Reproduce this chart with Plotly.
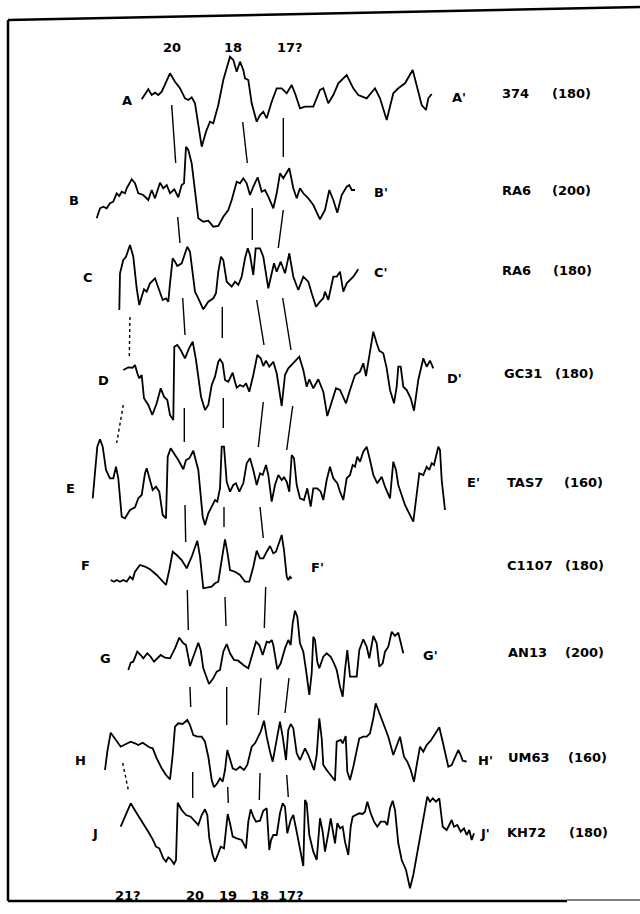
import plotly.graph_objects as go

# ---- profile readings: (distance, value) ; value axis increases downward on the page
A_pts = [(141.7,99.3),(148.3,89.3),(151.7,95),(155,92.7),(158.3,95),(161.7,91.7),(170,73.3),(175,81.7),(180,88.3),(185,98.3),(188.3,100),(191.7,97.3),(195,103.3),(198.3,126.7),(201.7,146.7),(206,131.7),(210,121.7),(213.3,123.3),(218.3,105),(223.3,80),(230,56.7),(233.3,60),(236.7,71.7),(240,61.7),(243.3,70),(245,78.3),(248.3,80),(251.7,103.3),(256.7,121.7),(260,115),(263.3,111.7),(266.7,118.3),(271.7,101.7),(276.7,88.3),(281.7,88.3),(286.7,93.3),(291.7,85),(295,93.3),(300,108.3),(305,106.7),(313.3,106.7),(320,90),(323.3,88.3),(328.3,103.3),(333.3,95),(338.3,83.3),(346.7,75),(353.3,88.3),(358.3,95),(366.7,98.3),(375,88.3),(380,98.3),(386.7,120),(393.3,93.3),(398.3,88.3),(405,83.3),(412.7,70),(418.3,91.7),(421.7,105),(426,110),(428.3,98.3),(431.7,94)]

B_pts = [(96.7,218.3),(100,208.3),(103.3,206.7),(106.7,208.3),(110,203.3),(113.3,201.7),(116.7,193.3),(119.3,196),(121.7,191.7),(125,193.3),(126.7,188.3),(131.7,179.3),(135,183.3),(138.3,193.3),(143.3,195),(148.3,200),(151.7,190),(155,198.3),(160,182.7),(163.3,188.3),(166.7,185),(170,193.3),(174.3,189.3),(178.3,197.3),(181.7,185),(184,183.3),(186,146.7),(188.3,150),(191.7,163.3),(195,193.3),(198.3,218.3),(203.3,221.7),(208.3,220.7),(213.3,226.7),(218.3,226),(223.3,216.7),(228.3,210),(231.7,200),(236.7,181.7),(240,183.3),(243.3,178.3),(246.7,183.3),(250,195),(253.3,186.7),(257.7,177.3),(261.7,191.7),(265,190),(268.3,196.7),(273.3,208.3),(276.7,193.3),(280,173.3),(283.3,178.3),(289.3,168.3),(293.3,188.3),(296.7,198.3),(300,188.3),(303.3,193.3),(308.3,198.3),(313.3,205),(320,219.3),(325,210),(329.3,190),(333.3,200),(337.3,212.7),(341.7,195),(346.7,186.7),(349.3,185),(351.7,190),(355,190)]

C_pts = [(119.3,310),(120,273.3),(123.3,260),(126,256.7),(130,245),(133.3,256.7),(136.7,288.3),(139.3,305),(141.7,296.7),(144,289.3),(146.7,291.7),(150,283.3),(155,278.3),(158.3,288.3),(162.7,300),(166,298.3),(168.3,301.7),(170,283.3),(172.7,258.3),(175,261.7),(177.3,266),(181.7,263.3),(187.3,246.7),(190,251.7),(195,291.7),(198.3,298.3),(203.3,309.3),(208.3,301.7),(213.3,298.3),(216,293.3),(218.3,271.7),(221,256.7),(223.3,260),(226.7,281.7),(231.7,286.7),(235,281.7),(238.3,285),(241.7,276.7),(245,258.3),(247.7,248.3),(250,255),(253.3,275),(255.7,248.3),(260,248.3),(263.3,256.7),(268.3,288.3),(271.7,273.3),(274,263.3),(276.7,271.7),(280.7,261.7),(285,273.3),(289.3,253.3),(293.3,276.7),(298.3,290),(303.3,276.7),(308.3,281.7),(311.7,293.3),(316,306.7),(320,301.7),(323.3,298.3),(325,291.7),(328.3,300),(333.3,276.7),(336.7,276.7),(340,271.7),(343.3,291.7),(346.7,283.3),(353.3,276.7),(358.3,269.3)]

D_pts = [(123.3,370),(128.3,367.3),(132.7,367.7),(135,365),(137.3,373.3),(139.3,378.3),(141.7,375),(144,398.3),(148.3,405),(152.3,415),(156.7,403.3),(160.7,388.3),(164,396.7),(167.3,400),(170,415),(173.3,420),(174.3,346.7),(177.3,345),(180.7,350),(185,358.3),(189,348.3),(192.7,341.7),(196,360),(201,396.7),(205,410),(208.3,405),(211.7,385),(215,376.7),(218.3,361.7),(220,359.3),(222.7,363.3),(225,380),(228.3,381.7),(232.7,372.7),(235,381.7),(236.7,387.7),(240,385),(243.3,386.7),(246,383.3),(249.3,391.7),(253.3,375),(257.3,355),(260.7,358.3),(263.3,366),(266,360.7),(269.3,366.7),(273.3,361.7),(276.7,373.3),(281.7,406),(285,375),(288.3,368.3),(291.7,365),(295,361.7),(299.3,356.7),(303.3,370),(306.7,386.7),(309.3,379.3),(313.3,388.3),(318.3,379.3),(323.3,391.7),(327.3,416),(331.7,401.7),(336,388.3),(340,390),(346,403.3),(350,390),(355,375),(360,371.7),(363.3,363.3),(366,376),(370,353.3),(373.3,331.7),(376.7,343.3),(379.3,350.7),(383.3,353.3),(386.7,368.3),(390,390),(394,403.3),(396.7,386.7),(398.3,366.7),(400.7,366.7),(403.3,386.7),(406.7,390),(410.7,398.3),(414,410.7),(418.3,380),(423.3,358.3),(426.7,366.7),(430,360.7),(433.3,368.3)]

E_pts = [(92.7,498.3),(95,470),(97.3,446.7),(100,439.3),(102.7,446.7),(106,470),(110,478.3),(113.3,478.3),(116,466.7),(118.3,478.3),(121.7,516.7),(125,518.3),(130,510),(135,507.3),(138.3,498.3),(141.7,495),(145,473.3),(146.7,468.3),(150,480),(152.7,490),(156,486.7),(159.3,491.7),(162.7,515),(166,518.3),(167.7,456.7),(170.7,448.3),(175,455),(178.3,460),(183.3,469.3),(186,460),(189.3,458.3),(193.3,450.7),(198.3,470),(202.7,516.7),(205,525),(208.3,513.3),(211.7,506.7),(215,500),(217.3,501.7),(220,488.3),(221.7,446.7),(224,446.7),(226.7,481.7),(230,491.7),(233.3,485),(236,483.3),(239.3,491.7),(243.3,483.3),(246.7,463.3),(250,458.3),(253.3,470),(256.7,485),(260,473.3),(262.7,475),(266,465),(268.3,475),(271.7,501.7),(275,485),(278.3,475),(281.7,480),(284,477.3),(286.7,481.7),(289.3,491.7),(291.7,455),(294,458.3),(296.7,485),(300,498.3),(304,500),(307.3,488.3),(310.7,506.7),(313.3,488.3),(317.3,488.3),(320.7,491.7),(323.3,500),(326.7,480),(330,466.7),(333.3,478.3),(337.3,483.3),(340,491.7),(343.3,500),(346.7,478.3),(350,475),(352.7,465),(355,466.7),(357.3,456.7),(360,461.7),(363.3,451.7),(366.7,446.7),(370,460),(373.3,475),(377.3,483.3),(381.7,476.7),(385,486.7),(390,498.3),(393.3,461.7),(396,470),(398.3,485),(405,505),(413.3,521.7),(419.3,473.3),(423.3,475),(426.7,466.7),(429.3,470),(431.7,463.3),(434,465),(438.3,446.7),(440,450),(441.7,480),(445,510)]

F_pts = [(110.7,580),(114,581.7),(116.7,580),(120,581.7),(123.3,580),(126.7,581.7),(130,576.7),(132.7,579.3),(135,571.7),(140,565),(145,566.7),(150,569.3),(156.7,575),(161.7,580),(166,585),(169.3,570),(172.7,551.7),(176.7,555),(181.7,560),(186.7,568.3),(191.7,556.7),(197.3,540.7),(200,556.7),(203.3,588.3),(207.3,587.3),(211.7,586.7),(215,583.3),(218.3,581.7),(221.7,560),(225,539.3),(227.3,551.7),(230,570),(235,571.7),(240,575),(245,581.7),(249.3,581.7),(253.3,566.7),(256.7,550.7),(260,558.3),(263.3,558.3),(266.7,551.7),(270,546),(273.3,553.3),(276,551.7),(281.7,535),(284,550),(286.7,576.7),(288.3,580),(290,576.7),(291.7,578.3)]

G_pts = [(128.3,670),(130.7,662.7),(133.3,661.7),(137.3,651.7),(140.7,655),(143.3,658.3),(147.3,653.3),(150.7,656.7),(154,661.7),(157.3,658.3),(160.7,655),(165,657.7),(170,658.3),(175,648.3),(179.3,637.7),(183.3,643.3),(186,645),(190,666),(193.3,656.7),(198.3,642.7),(200.7,650),(203.3,668.3),(209,684),(213.3,678.3),(216.7,671.7),(220,670),(223.3,651.7),(226.7,644),(230,653.3),(234,660),(238.3,660.7),(243.3,665),(248.3,668.3),(251.7,656.7),(256,641.7),(259.3,645),(262.7,655),(266.7,641.7),(269.3,642.7),(271.7,640),(273.3,645),(277.3,669.3),(280.7,663.3),(285,648.3),(288.3,640),(290.7,645),(292.7,623.3),(295,610.7),(297.3,616.7),(300,643.3),(303.3,651.7),(306,670),(309.3,695),(311.7,673.3),(313.3,636.7),(315,640),(317.3,661.7),(319.3,668.3),(323.3,656.7),(326.7,653.3),(330.7,656.7),(334,663.3),(336.7,670),(340,686.7),(342.7,696.7),(345,670),(347.3,650),(350,676.7),(356.7,676.7),(359.3,650),(363.3,639.3),(366.7,646.7),(369.3,658.3),(373.3,636),(376.7,643.3),(379.3,666.7),(382.7,663.3),(385,651.7),(388.3,646.7),(391.7,631.7),(395,636),(398.3,632.7),(403.3,653.3)]

H_pts = [(105,770),(107.3,751.7),(110.7,732.7),(115,738.3),(120.7,746.7),(126,744),(130.7,741.7),(135,743.3),(138.3,745),(142.7,742.7),(146,745),(149.3,747.3),(152.7,748.3),(156.7,758.3),(161.7,768.3),(166,775),(170,779.3),(172.7,755),(175,726.7),(178.3,723.3),(182.7,724),(187.3,720),(190,725),(193.3,735),(197.3,736.7),(201.7,736.7),(205,741.7),(208.3,756.7),(211.7,780),(214,787.3),(217.3,783.3),(220,778.3),(222.7,781.7),(225,770),(227.3,750),(230,758.3),(232.7,768.3),(236,770),(240,766.7),(244,770),(247.3,765),(251.7,746.7),(255,743.3),(258.3,736.7),(260.7,731.7),(264,720.7),(266.7,736.7),(270,751.7),(272.7,761.7),(276,743.3),(280,721.7),(282.7,736.7),(286,760),(288.3,730),(290.7,724),(293.3,728.3),(296.7,753.3),(300,760),(305,748.3),(308.3,755),(311.7,763.3),(314,770),(316.7,755),(319.3,718.3),(321.7,738.3),(323.3,765),(326.7,770),(331.7,776.7),(335,780.7),(336.7,741.7),(340.7,740),(342.7,743.3),(345.7,736),(347.3,771.7),(350,780),(353.3,766.7),(356.7,750),(359.3,738.3),(363.3,736.7),(366.7,736.7),(370,733.3),(373.3,718.3),(375.7,703.3),(380,715),(384,726.7),(388.3,736.7),(393.3,755),(396.7,746.7),(400,736.7),(404,756.7),(407.3,761.7),(410.7,770),(414,781.7),(416.7,765),(420,746.7),(423.3,751.7),(426.7,745),(430.7,740.7),(435,733.3),(439.3,727.3),(442.7,741.7),(445,751.7),(448.3,766.7),(451.7,765),(455,756.7),(458.3,750),(460.7,755),(462.7,760.7),(466.7,761.7)]

J_pts = [(120.7,826.7),(125,816.7),(130.7,803.3),(136.7,813.3),(143.3,823.3),(148.3,831.7),(152.7,839.3),(156,846.7),(159.3,848.3),(160.7,851.7),(163.3,858.3),(166,861.7),(168.3,857.3),(170.7,859.3),(174,864),(176,860),(177.7,802.7),(181.7,810),(186,815),(190.7,816.7),(195,821.7),(198.3,825),(201.7,815),(205,809.3),(207.3,815),(209.3,838.3),(212.7,855),(215,861.7),(218.3,853.3),(220.7,846.7),(224,848.3),(226,826.7),(227.7,814),(230,823.3),(232.7,836.7),(236.7,838.3),(241.7,840),(246,848.3),(248.3,821.7),(250.7,809.3),(253.3,816.7),(256,821.7),(260,820.7),(263.3,810.7),(266.7,808.3),(269.3,850),(271,840),(273.3,835),(276.7,835),(280,813.3),(282.7,803.3),(285,806.7),(287.3,833.3),(290.7,820),(293.3,815),(296.7,831.7),(300,848.3),(303.3,866),(305,800),(306.7,803.3),(309.3,835),(313.3,851.7),(316.7,860),(320,818.3),(322.7,831.7),(325,851.7),(328.3,833.3),(330.7,818.3),(332.7,830),(335,843.3),(337.3,823.3),(340,828.3),(342.7,826.7),(345,841.7),(348.3,855),(350.7,826.7),(352.7,816.7),(356,815),(359.3,813.3),(362.7,814),(365,811.7),(367.3,801.7),(370.7,813.3),(374,821.7),(377.3,826.7),(380.7,821.7),(385,821.7),(387.3,825),(390,808.3),(392.7,800.7),(395,810),(398.3,843.3),(401.7,860),(406,870),(410,888.3),(413.3,875),(418.3,846.7),(423.3,820),(427.3,796.7),(430,801.7),(432.7,798.3),(436,801.7),(439.3,798.3),(442.7,826.7),(446.7,830),(451.7,820),(454,826.7),(457.3,825),(460.7,831.7),(464,828.3),(466.7,835),(469.3,830),(471.7,840),(474,833.3)]

# correlation segments between adjacent profiles (x0, y0, x1, y1)
corr_solid = [
    (171.7,105,175.7,163),(242.7,122,247.3,163),(283.3,118,283.3,157),
    (177.7,217,180,243),(252.3,208,252.3,240),(283.3,210,278.3,248),
    (182.7,298,185,335),(222.3,307,222.3,338),(256.7,300,264,345),(282.7,298,291,350),
    (184.3,408,184.3,442),(223.3,398,223.3,428),(263.3,402,258.3,447),(292.7,406,286.7,450),
    (185,505,185.7,542),(224,507,224,527),(260,507,263.3,538),
    (187.3,590,188.3,630),(225,597,226,626),(265.7,587,264.3,628),
    (190,687,190.7,707),(226.7,687,226.7,725),(261,678,258.3,715),(289,678,285,713),
    (192.7,772,192.7,798),(227.7,787,228.3,803),(260,773,259.3,800),(286.7,775,288.3,797),
]
corr_dotted = [(130,317,129.3,357),(123.3,405,116.7,443),(122.7,763,128.3,790)]

left_labels = ["A", "B", "C", "D", "E", "F", "G", "H", "J"]
right_labels = ["A'", "B'", "C'", "D'", "E'", "F'", "G'", "H'", "J'"]
site_names = ["374", "RA6", "RA6", "GC31", "TAS7", "C1107", "AN13", "UM63", "KH72"]
site_numbers = ["(180)", "(200)", "(180)", "(180)", "(160)", "(180)", "(200)", "(160)", "(180)"]
top_chrons = ["20", "18", "17?"]
bottom_chrons = ["21?", "20", "19", "18", "17?"]

# ---- layout positions (page units)
left_pos = [(127,100),(74,200),(88,277),(103,380),(70,488),(85,565),(105,658),(80,760),(95,833)]
right_pos = [(450,97),(372,192),(372,272),(445,378),(465,482),(309,567),(421,655),(476,760),(478,833)]
name_pos = [(500,93),(500,190),(500,270),(502,373),(505,482),(505,565),(506,652),(506,757),(505,832)]
num_pos = [(550,93),(550,190),(551,270),(553,373),(562,482),(563,565),(563,652),(566,757),(567,832)]
top_pos = [(172,47),(233,47),(290,47)]
bottom_pos = [(128,895),(195,895),(228,895),(260,895),(291,895)]

fig = go.Figure()
for pts in [A_pts, B_pts, C_pts, D_pts, E_pts, F_pts, G_pts, H_pts, J_pts]:
    fig.add_trace(go.Scatter(x=[p[0] for p in pts], y=[p[1] for p in pts], mode="lines",
                             line=dict(color="black", width=1.8), hoverinfo="skip", showlegend=False))

def seg_trace(segs, dash, width):
    xs, ys = [], []
    for x0, y0, x1, y1 in segs:
        xs += [x0, x1, None]
        ys += [y0, y1, None]
    return go.Scatter(x=xs, y=ys, mode="lines", line=dict(color="black", width=width, dash=dash),
                      hoverinfo="skip", showlegend=False)

fig.add_trace(seg_trace(corr_solid, "solid", 1.4))
fig.add_trace(seg_trace(corr_dotted, "dot", 1.4))

font = dict(family="DejaVu Sans, Verdana, sans-serif", size=13, color="black")
ann = []
def add(txt, x, y, anchor="center"):
    ann.append(dict(text="<b>%s</b>" % txt, x=x, y=y, xref="x", yref="y", showarrow=False,
                    xanchor=anchor, yanchor="middle", font=font))
for t, (x, y) in zip(left_labels, left_pos):
    add(t, x, y)
for t, (x, y) in zip(right_labels, right_pos):
    add(t, x, y, "left")
for t, (x, y) in zip(site_names, name_pos):
    add(t, x, y, "left")
for t, (x, y) in zip(site_numbers, num_pos):
    add(t, x, y, "left")
for t, (x, y) in zip(top_chrons, top_pos):
    add(t, x, y)
for t, (x, y) in zip(bottom_chrons, bottom_pos):
    add(t, x, y)

shapes = [
    dict(type="line", x0=8, y0=20, x1=640, y1=7, xref="x", yref="y", line=dict(color="black", width=2.5)),
    dict(type="line", x0=8, y0=20, x1=8, y1=901, xref="x", yref="y", line=dict(color="black", width=2.5)),
    dict(type="line", x0=8, y0=901, x1=567, y1=901, xref="x", yref="y", line=dict(color="black", width=2.5)),
    dict(type="line", x0=567, y0=900, x1=640, y1=900, xref="x", yref="y", line=dict(color="black", width=1)),
]

fig.update_layout(width=640, height=914, margin=dict(l=0, r=0, t=0, b=0),
                  paper_bgcolor="white", plot_bgcolor="white", annotations=ann, shapes=shapes,
                  xaxis=dict(range=[0, 640], visible=False, fixedrange=True),
                  yaxis=dict(range=[914, 0], visible=False, fixedrange=True))
fig.write_html("out.html")
